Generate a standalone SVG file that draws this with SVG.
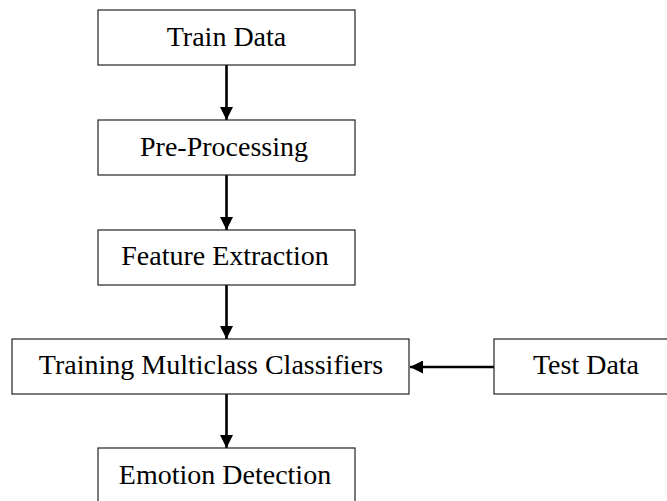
<svg xmlns="http://www.w3.org/2000/svg" width="667" height="501" viewBox="0 0 667 501">
<defs>
<marker id="ah" viewBox="0 0 10 10" refX="10" refY="5" markerWidth="5" markerHeight="5" orient="auto" markerUnits="strokeWidth">
<path d="M0,0 L10,5 L0,10 Z" fill="#000"/>
</marker>
<style>
.box{fill:#fff;stroke:#222;stroke-width:1.2}
.lbl{font-family:"Liberation Serif","Times New Roman",serif;font-size:28px;fill:#000;text-anchor:middle}
.con{stroke:#000;stroke-width:2.6;fill:none;marker-end:url(#ah)}
</style>
</defs>
<rect width="667" height="501" fill="#fff"/>
<g id="connectors">
<line class="con" x1="226.5" y1="65" x2="226.5" y2="120"/>
<line class="con" x1="226.5" y1="175" x2="226.5" y2="230"/>
<line class="con" x1="226.5" y1="285" x2="226.5" y2="339"/>
<line class="con" x1="226.5" y1="394" x2="226.5" y2="448"/>
<line class="con" x1="494" y1="367" x2="410" y2="367"/>
</g>
<g id="train-data"><rect class="box" x="98" y="10" width="257" height="55"/><text class="lbl" x="226.5" y="46">Train Data</text></g>
<g id="pre-processing"><rect class="box" x="98" y="120" width="257" height="55"/><text class="lbl" x="224" y="156">Pre-Processing</text></g>
<g id="feature-extraction"><rect class="box" x="98" y="230" width="257" height="55"/><text class="lbl" x="225" y="265">Feature Extraction</text></g>
<g id="training"><rect class="box" x="12" y="339" width="397" height="55"/><text class="lbl" x="211" y="374">Training Multiclass Classifiers</text></g>
<g id="test-data"><rect class="box" x="494" y="339" width="180" height="55"/><text class="lbl" x="586" y="374">Test Data</text></g>
<g id="emotion-detection"><rect class="box" x="98" y="448" width="257" height="60"/><text class="lbl" x="225" y="484">Emotion Detection</text></g>
</svg>
